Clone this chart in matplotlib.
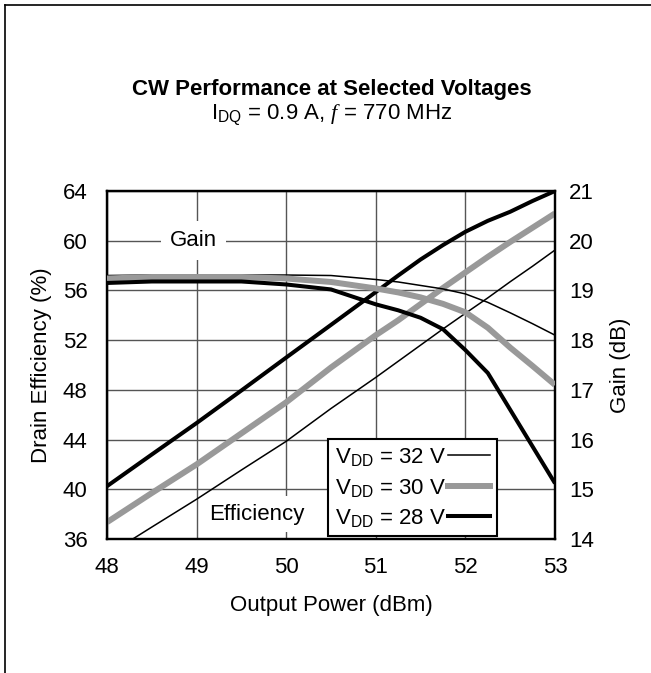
import numpy as np
import matplotlib
matplotlib.use('Agg')
import matplotlib.pyplot as plt
from matplotlib.lines import Line2D

plt.rcParams['font.family'] = ['Liberation Sans', 'DejaVu Sans']
plt.rcParams['mathtext.fontset'] = 'custom'
plt.rcParams['mathtext.rm'] = 'Liberation Sans'
plt.rcParams['mathtext.it'] = 'Liberation Serif:italic'

# output power (dBm)
pout = [48, 48.5, 49, 49.5, 50, 50.5, 51, 51.25, 51.5, 51.75, 52, 52.25, 52.5, 52.75, 53]

# gain (dB)
gain_32 = [19.30, 19.31, 19.31, 19.31, 19.31, 19.30, 19.22, 19.17, 19.10, 19.03, 18.93, 18.76, 18.55, 18.33, 18.10]
gain_30 = [19.24, 19.27, 19.27, 19.27, 19.24, 19.17, 19.04, 18.96, 18.86, 18.73, 18.56, 18.25, 17.85, 17.48, 17.10]
gain_28 = [19.15, 19.18, 19.18, 19.18, 19.12, 19.02, 18.72, 18.60, 18.45, 18.22, 17.80, 17.34, 16.60, 15.86, 15.12]

# drain efficiency (%)
eff_32 = [34.7, 36.96, 39.2, 41.55, 43.86, 46.5, 49.0, 50.3, 51.6, 52.9, 54.16, 55.4, 56.7, 57.95, 59.25]
eff_30 = [37.35, 39.7, 42.0, 44.5, 47.0, 49.8, 52.4, 53.6, 54.9, 56.2, 57.45, 58.7, 59.9, 61.05, 62.2]
eff_28 = [40.25, 42.8, 45.33, 47.95, 50.6, 53.23, 55.87, 57.2, 58.49, 59.65, 60.72, 61.6, 62.33, 63.2, 64.0]

labels = [r'V$_{\rm DD}$ = 32 V', r'V$_{\rm DD}$ = 30 V', r'V$_{\rm DD}$ = 28 V']
colors = ['black', '#999999', 'black']
widths = [1.1, 4.3, 2.9]

fs = 16
fig = plt.figure(figsize=(6.51, 6.73), dpi=100)
ax = fig.add_axes([107/651, 1-539/673, 448/651, 348/673])
ax2 = ax.twinx()

ax.set_xlim(48, 53)
ax.set_ylim(36, 64)
ax2.set_ylim(14, 21)
ax.set_xticks(np.arange(48, 54, 1))
ax.set_yticks(np.arange(36, 65, 4))
ax2.set_yticks(np.arange(14, 22, 1))
ax.grid(True, color='#555555', linewidth=1.0, zorder=0)
ax.set_axisbelow(True)
ax.tick_params(length=0, labelsize=fs, pad=14)
ax.tick_params(axis='x', pad=13)
ax2.tick_params(length=0, labelsize=fs, pad=10)
for a in (ax, ax2):
    for s in a.spines.values():
        s.set_linewidth(1.6)

for e, c, w in zip([eff_32, eff_30, eff_28], colors, widths):
    ax.plot(pout, e, color=c, lw=w, solid_capstyle='butt', zorder=3)
handles = []
for g, c, w, lab in zip([gain_32, gain_30, gain_28], colors, widths, labels):
    ax2.plot(pout, g, color=c, lw=w, solid_capstyle='butt', zorder=3)
    handles.append(Line2D([], [], color=c, lw=w, label=lab))

ax.text(48.97, 60, 'Gain', fontsize=fs, ha='center', va='center', zorder=2,
        bbox=dict(boxstyle='square,pad=0.4', fc='white', ec='none'))
ax.text(49.67, 38.0, 'Efficiency', fontsize=fs, ha='center', va='center', zorder=2,
        bbox=dict(boxstyle='square,pad=0.35', fc='white', ec='none'))

leg = ax2.legend(handles=handles, loc='lower right', bbox_to_anchor=(0.8705, 0.0095),
                 borderaxespad=0, fontsize=fs, markerfirst=False, fancybox=False,
                 framealpha=1, edgecolor='black', handlelength=1.9, handletextpad=0.1,
                 labelspacing=0.38, borderpad=0.3)
leg.get_frame().set_linewidth(1.5)

ax.set_xlabel('Output Power (dBm)', fontsize=fs, labelpad=12)
ax.set_ylabel('Drain Efficiency (%)', fontsize=fs, labelpad=8)
ax2.set_ylabel('Gain (dB)', fontsize=fs, labelpad=12)

fig.text(332/651, 1-89/673, 'CW Performance at Selected Voltages', fontsize=fs,
         fontweight='bold', ha='center', va='center')
fig.text(332/651, 1-115/673, r'I$_{\rm DQ}$ = 0.9 A, $f$ = 770 MHz', fontsize=fs,
         ha='center', va='center')

# page border (top and left)
fig.add_artist(Line2D([5/651, 1], [1-5/673, 1-5/673], color='black', lw=1.2))
fig.add_artist(Line2D([5/651, 5/651], [0, 1-5/673], color='black', lw=1.2))

fig.savefig('out.png', dpi=100)
